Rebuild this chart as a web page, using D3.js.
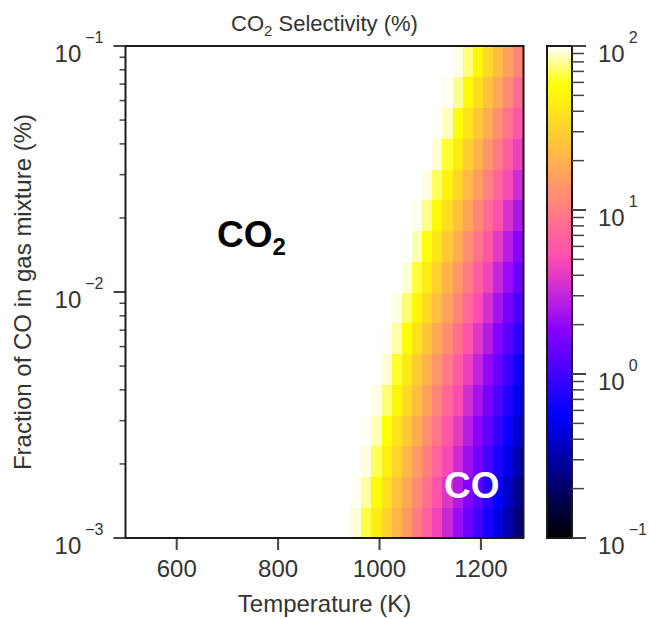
<!DOCTYPE html>
<html>
<head>
<meta charset="utf-8">
<script src="https://cdn.jsdelivr.net/npm/d3@7"></script>
<style>
  body { margin: 0; background: #fff; }
  text { font-family: "Liberation Sans", Arial, sans-serif; fill: #333; }
</style>
</head>
<body>
<svg width="649" height="619"></svg>
<script>
// temperature column centres (K), each cell 20 K wide
const temps = [955, 975, 995, 1015, 1035, 1055, 1075, 1095, 1115, 1135, 1155, 1175, 1195, 1215, 1235, 1255, 1275];
// row edges: fraction of CO in gas mixture (%)
const fracEdges = [0.001, 0.001334, 0.001778, 0.002371, 0.003162, 0.004217, 0.005623, 0.007499,
  0.01, 0.01334, 0.01778, 0.02371, 0.03162, 0.04217, 0.05623, 0.07499, 0.1];
// CO2 selectivity (%), one row per fraction band, bottom to top
const selectivity = [
  [91.7, 67, 45.7, 31.3, 21.3, 14.6, 9.95, 6.8, 4.64, 3.17, 2.16, 1.48, 1.01, 0.69, 0.47, 0.32, 0.22],
  [97.2, 81, 55.3, 37.7, 25.7, 17.6, 12, 8.17, 5.58, 3.81, 2.6, 1.77, 1.21, 0.825, 0.563, 0.384, 0.262],
  [100, 92.8, 69.5, 47.4, 32.4, 22.1, 15.1, 10.3, 7.01, 4.79, 3.27, 2.23, 1.52, 1.04, 0.708, 0.483, 0.33],
  [100, 98.9, 85.8, 58.5, 39.9, 27.3, 18.6, 12.7, 8.66, 5.91, 4.03, 2.75, 1.88, 1.28, 0.874, 0.596, 0.407],
  [100, 100, 94.4, 73.6, 50.2, 34.3, 23.4, 16, 10.9, 7.43, 5.07, 3.46, 2.36, 1.61, 1.1, 0.75, 0.512],
  [100, 100, 100, 90.2, 63.2, 43.1, 29.4, 20.1, 13.7, 9.35, 6.38, 4.35, 2.97, 2.03, 1.38, 0.943, 0.643],
  [100, 100, 100, 97.7, 82.6, 56.3, 38.4, 26.2, 17.9, 12.2, 8.33, 5.69, 3.88, 2.65, 1.81, 1.23, 0.841],
  [100, 100, 100, 100, 94.4, 73.6, 50.2, 34.3, 23.4, 16, 10.9, 7.43, 5.07, 3.46, 2.36, 1.61, 1.1],
  [100, 100, 100, 100, 100, 91.2, 65.7, 44.8, 30.6, 20.9, 14.2, 9.71, 6.62, 4.52, 3.08, 2.1, 1.44],
  [100, 100, 100, 100, 100, 98.9, 85.8, 58.5, 39.9, 27.3, 18.6, 12.7, 8.66, 5.91, 4.03, 2.75, 1.88],
  [100, 100, 100, 100, 100, 100, 96, 78, 53.2, 36.3, 24.8, 16.9, 11.5, 7.87, 5.37, 3.66, 2.5],
  [100, 100, 100, 100, 100, 100, 100, 93.3, 70.9, 48.4, 33, 22.5, 15.4, 10.5, 7.15, 4.88, 3.33],
  [100, 100, 100, 100, 100, 100, 100, 100, 90.7, 64.4, 44, 30, 20.5, 14, 9.53, 6.5, 4.44],
  [100, 100, 100, 100, 100, 100, 100, 100, 98.9, 85.8, 58.5, 39.9, 27.3, 18.6, 12.7, 8.66, 5.91],
  [100, 100, 100, 100, 100, 100, 100, 100, 100, 96.6, 79.5, 54.2, 37, 25.2, 17.2, 11.8, 8.02],
  [100, 100, 100, 100, 100, 100, 100, 100, 100, 100, 95, 75.1, 51.2, 34.9, 23.8, 16.3, 11.1],
];
const xTicks = [600, 800, 1000, 1200];
const yTicks = [0.001, 0.01, 0.1];
const yTickExp = ["\u22123", "\u22122", "\u22121"];
const cbTicks = [0.1, 1, 10, 100];
const cbTickExp = ["\u22121", "0", "1", "2"];

// matplotlib gnuplot2
function gnuplot2(t) {
  const cl = v => Math.max(0, Math.min(1, v));
  const r = cl(t / 0.32 - 0.78125);
  const g = cl(2 * t - 0.84);
  let b;
  if (t < 0.25) b = 4 * t;
  else if (t < 0.92) b = -2 * t + 1.84;
  else b = t / 0.08 - 11.5;
  b = cl(b);
  return d3.rgb(r * 255, g * 255, b * 255).formatHex();
}
const colorOf = s => gnuplot2((Math.log10(s) + 1) / 3);

const svg = d3.select("svg");
const pLeft = 125.5, pRight = 523.5, pTop = 46, pBottom = 538;

const x = d3.scaleLinear().domain([500, 1285]).range([pLeft, pRight]);
const y = d3.scaleLog().domain([0.001, 0.1]).range([pBottom, pTop]);

// heat map cells
const cells = [];
selectivity.forEach((row, i) => {
  row.forEach((v, j) => cells.push({ t: temps[j], f0: fracEdges[i], f1: fracEdges[i + 1], v }));
});
svg.append("g")
  .selectAll("rect")
  .data(cells)
  .enter()
  .append("rect")
  .attr("x", d => x(d.t - 10))
  .attr("width", d => x(d.t + 10) - x(d.t - 10) + 0.5)
  .attr("y", d => y(d.f1))
  .attr("height", d => y(d.f0) - y(d.f1) + 0.5)
  .attr("fill", d => colorOf(d.v))
  .attr("shape-rendering", "crispEdges");

// x axis
const xAxis = svg.append("g")
  .attr("transform", `translate(0,${pBottom})`)
  .call(d3.axisBottom(x).tickValues(xTicks).tickFormat(d3.format("d")).tickSize(12).tickPadding(10));
xAxis.select(".domain").remove();
xAxis.selectAll("line").attr("stroke", "#444").attr("stroke-width", 2);
xAxis.selectAll("text").attr("font-size", 24).attr("fill", "#333")
  .attr("font-family", '"Liberation Sans", Arial, sans-serif');

// y axis ticks
const yMinor = [];
[0.001, 0.01].forEach(dec => { for (let k = 2; k <= 9; k++) yMinor.push(dec * k); });
const yAxis = svg.append("g").attr("transform", `translate(${pLeft},0)`);
yAxis.selectAll(".maj").data(yTicks).enter().append("line")
  .attr("x1", -12).attr("x2", 0).attr("y1", d => y(d)).attr("y2", d => y(d))
  .attr("stroke", "#444").attr("stroke-width", 2);
yAxis.selectAll(".min").data(yMinor).enter().append("line")
  .attr("x1", -6).attr("x2", 0).attr("y1", d => y(d)).attr("y2", d => y(d))
  .attr("stroke", "#444").attr("stroke-width", 1.5);
const yLab = yAxis.selectAll(".lab").data(yTicks).enter().append("text")
  .attr("text-anchor", "end")
  .attr("x", -22)
  .attr("y", d => y(d) + 16)
  .attr("font-size", 24);
yLab.append("tspan").text("10");
yLab.append("tspan").attr("dx", 4).attr("dy", -19).attr("font-size", 16).text((d, i) => yTickExp[i]);

// frame
svg.append("rect")
  .attr("x", pLeft).attr("y", pTop)
  .attr("width", pRight - pLeft).attr("height", pBottom - pTop)
  .attr("fill", "none").attr("stroke", "#1a1a1a").attr("stroke-width", 2);

// title
const title = svg.append("text")
  .attr("x", (pLeft + pRight) / 2).attr("y", 31)
  .attr("text-anchor", "middle").attr("font-size", 22);
title.append("tspan").text("CO");
title.append("tspan").attr("font-size", 15).attr("dy", 5).text("2");
title.append("tspan").attr("dy", -5).text(" Selectivity (%)");

// axis labels
svg.append("text")
  .attr("x", (pLeft + pRight) / 2).attr("y", 612)
  .attr("text-anchor", "middle").attr("font-size", 24)
  .text("Temperature (K)");
svg.append("text")
  .attr("transform", `translate(31,${(pTop + pBottom) / 2}) rotate(-90)`)
  .attr("text-anchor", "middle").attr("font-size", 24)
  .text("Fraction of CO in gas mixture (%)");

// annotations
const co2 = svg.append("text")
  .attr("x", 217).attr("y", 247)
  .attr("font-size", 37).attr("font-weight", "bold").style("fill", "#000");
co2.append("tspan").text("CO");
co2.append("tspan").attr("font-size", 24).attr("dy", 8).text("2");
svg.append("text")
  .attr("x", 444).attr("y", 498)
  .attr("font-size", 37).attr("font-weight", "bold").style("fill", "#fff")
  .text("CO");

// colour bar
const cbLeft = 547, cbRight = 572;
const c = d3.scaleLog().domain([0.1, 100]).range([pBottom, pTop]);
const grad = svg.append("defs").append("linearGradient")
  .attr("id", "cb").attr("x1", 0).attr("y1", 1).attr("x2", 0).attr("y2", 0);
grad.selectAll("stop").data(d3.range(0, 1.0001, 0.01)).enter().append("stop")
  .attr("offset", d => d).attr("stop-color", d => gnuplot2(d));
svg.append("rect")
  .attr("x", cbLeft).attr("y", pTop)
  .attr("width", cbRight - cbLeft).attr("height", pBottom - pTop)
  .attr("fill", "url(#cb)").attr("stroke", "#1a1a1a").attr("stroke-width", 2);
const cbMinor = [];
[0.1, 1, 10].forEach(dec => { for (let k = 2; k <= 9; k++) cbMinor.push(dec * k); });
const cbAxis = svg.append("g").attr("transform", `translate(${cbRight},0)`);
cbAxis.selectAll(".maj").data(cbTicks).enter().append("line")
  .attr("x1", 0).attr("x2", 14).attr("y1", d => c(d)).attr("y2", d => c(d))
  .attr("stroke", "#444").attr("stroke-width", 2);
cbAxis.selectAll(".min").data(cbMinor).enter().append("line")
  .attr("x1", 0).attr("x2", 12).attr("y1", d => c(d)).attr("y2", d => c(d))
  .attr("stroke", "#444").attr("stroke-width", 1.5);
const cbLab = cbAxis.selectAll(".lab").data(cbTicks).enter().append("text")
  .attr("x", 26)
  .attr("y", d => c(d) + 16)
  .attr("font-size", 24);
cbLab.append("tspan").text("10");
cbLab.append("tspan").attr("dx", 4).attr("dy", -19).attr("font-size", 16).text((d, i) => cbTickExp[i]);
</script>
</body>
</html>
